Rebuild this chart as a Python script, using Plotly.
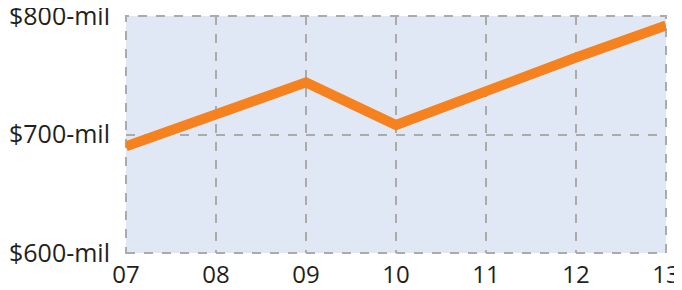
import plotly.graph_objects as go

years = ["07", "08", "09", "10", "11", "12", "13"]
revenue = [690, 718, 744, 708, 737, 765, 792]
y_ticks = [600, 700, 800]
y_labels = ["$600-mil", "$700-mil", "$800-mil"]

x_pos = list(range(len(years)))

fig = go.Figure()
fig.add_trace(go.Scatter(
    x=x_pos, y=revenue, mode="lines",
    line=dict(color="#F5821F", width=10),
    hoverinfo="skip",
))

grid = dict(showgrid=True, gridcolor="#ABABAB", griddash="dash", gridwidth=2,
            zeroline=False, showline=False, automargin=False,
            ticks="outside", tickcolor="rgba(0,0,0,0)",
            ticklabeloverflow="allow")

fig.add_shape(type="rect", xref="paper", yref="paper", x0=0, x1=1, y0=0, y1=1,
              line=dict(color="#ABABAB", width=2, dash="dash"), layer="below")

fig.update_layout(
    width=674, height=282,
    margin=dict(l=118, r=16, t=8, b=37),
    paper_bgcolor="white",
    plot_bgcolor="#E1E8F5",
    showlegend=False,
    font=dict(family="Open Sans", size=25, color="#231F20"),
    xaxis=dict(range=[0, 6], tickvals=x_pos, ticktext=years, ticklen=0,
               tickfont=dict(size=24), **grid),
    yaxis=dict(range=[600, 800], tickvals=y_ticks, ticktext=y_labels, ticklen=10, **grid),
)

fig.write_html("out.html")
